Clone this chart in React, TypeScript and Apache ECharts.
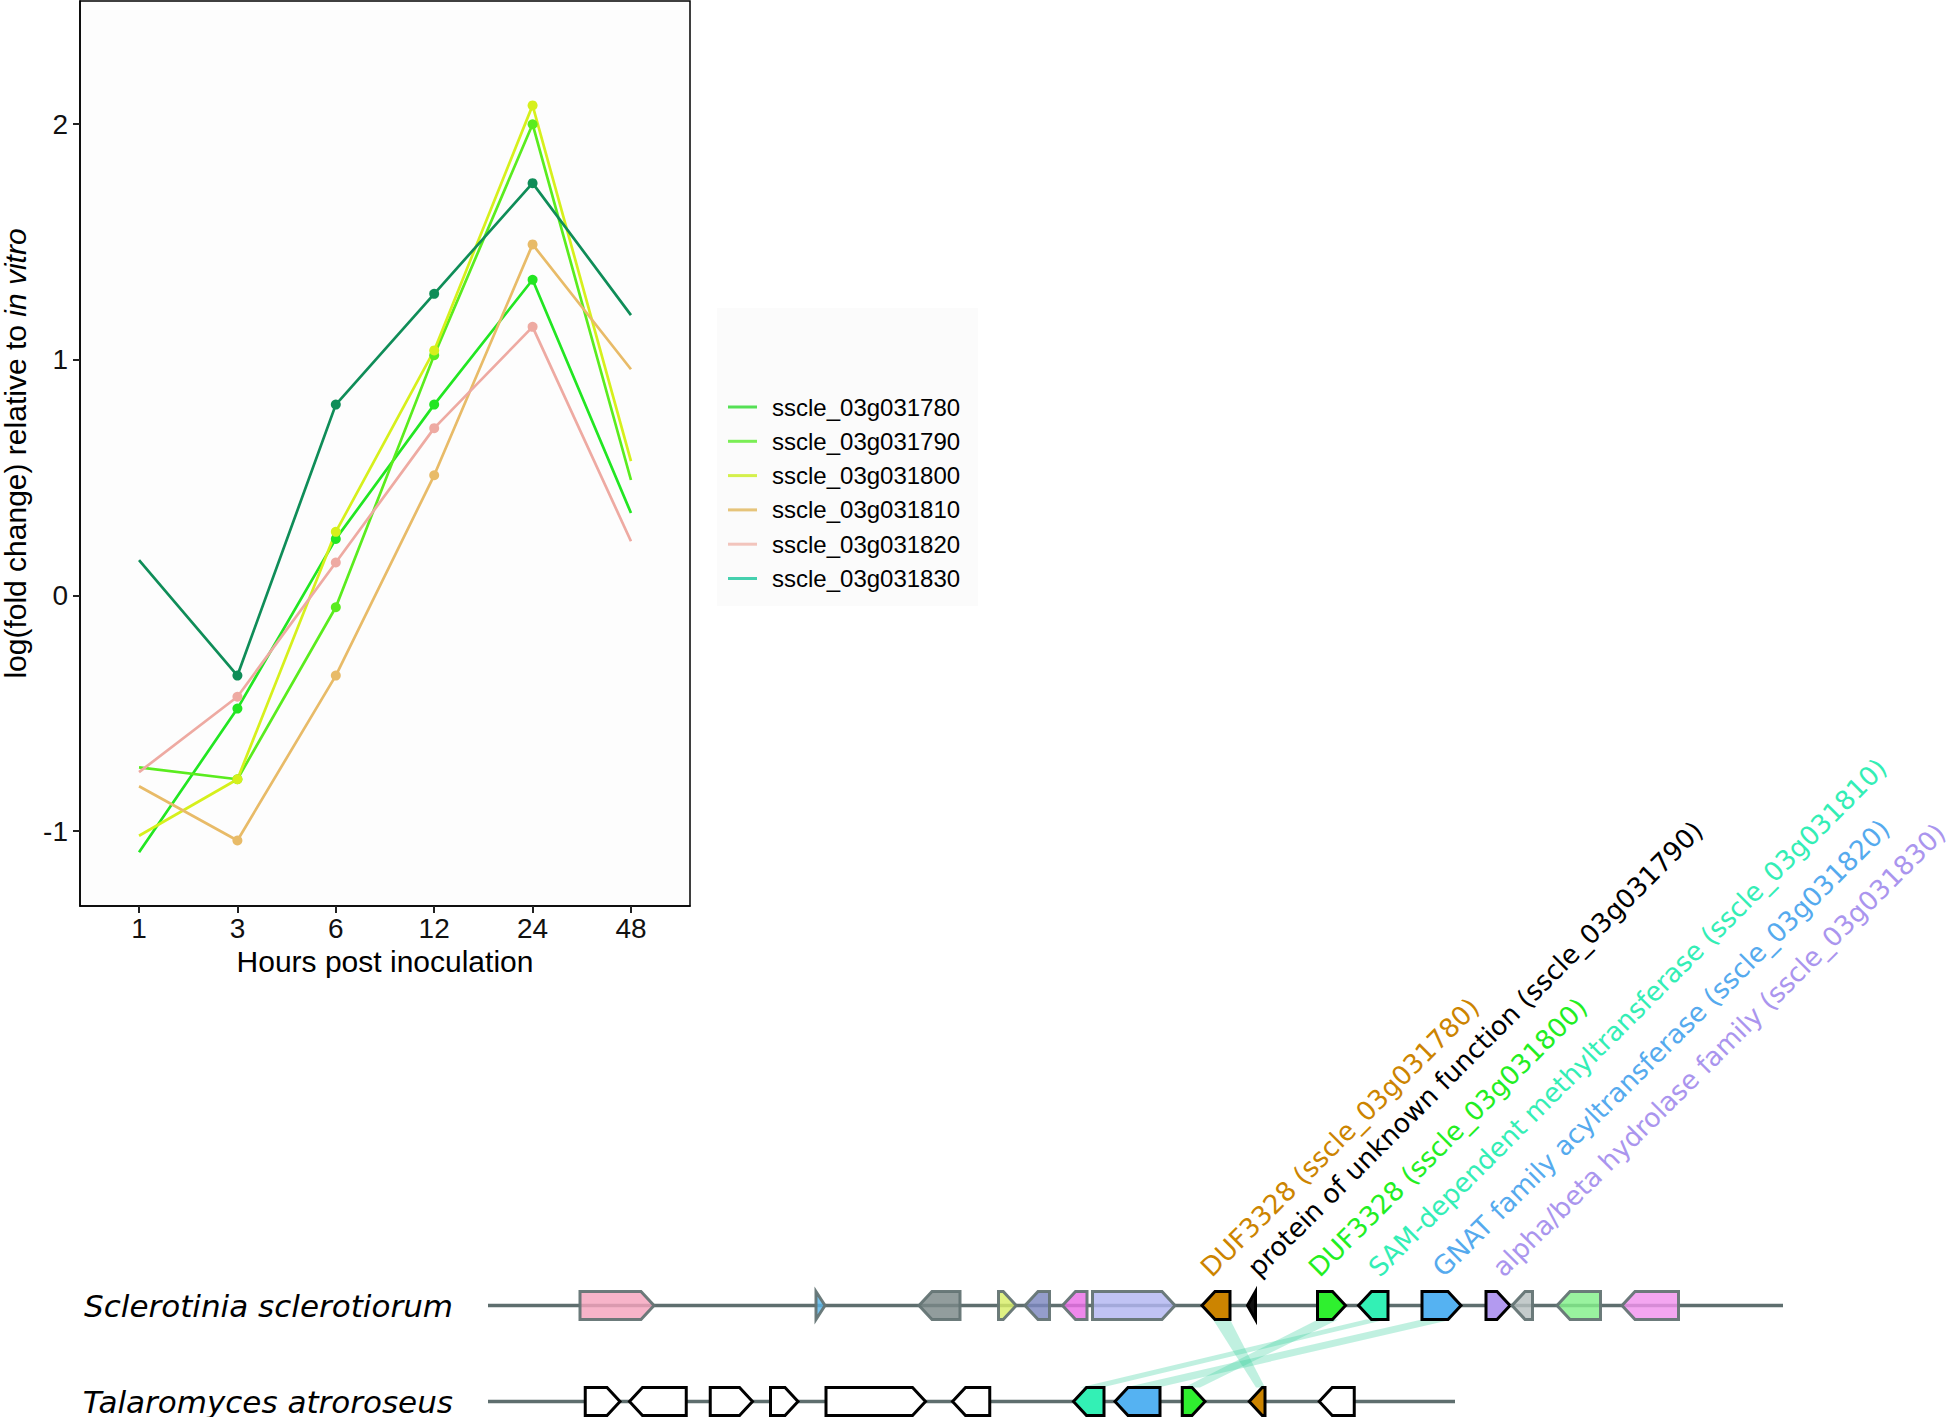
import React, { useEffect, useRef } from "react";
import * as echarts from "echarts";

// ---------- expression data (log fold change) ----------
const hours = ["1", "3", "6", "12", "24", "48"];
const markedHours = ["3", "6", "12", "24"];
const yTicks = [-1, 0, 1, 2];
const geneIds = [
  "sscle_03g031780",
  "sscle_03g031790",
  "sscle_03g031800",
  "sscle_03g031810",
  "sscle_03g031820",
  "sscle_03g031830",
];
const s780 = [-1.09, -0.48, 0.24, 0.81, 1.34, 0.35];
const s790 = [-0.73, -0.78, -0.05, 1.02, 2.0, 0.49];
const s800 = [-1.02, -0.78, 0.27, 1.04, 2.08, 0.57];
const s810 = [-0.81, -1.04, -0.34, 0.51, 1.49, 0.96];
const s820 = [-0.75, -0.43, 0.14, 0.71, 1.14, 0.23];
const s830 = [0.15, -0.34, 0.81, 1.28, 1.75, 1.19];
const seriesValues = [s780, s790, s800, s810, s820, s830];
const lineColors = ["#22e622", "#5aec1e", "#d6f01c", "#e8bb68", "#eeaaa2", "#0f8d58"];
const legendColors = ["#55e055", "#7aee55", "#d4f04c", "#e6c47a", "#f2c4bc", "#45d0ae"];

// ---------- gene cluster data (genomic coordinates, bp) ----------
const species = ["Talaromyces atroroseus", "Sclerotinia sclerotiorum"];
const trackLength = [38680, 51800];
// [start, end, strand]
const sclerotiniaGenes = [
  [3680, 6640, 1],
  [13120, 13480, 1],
  [17240, 18880, -1],
  [20420, 21130, 1],
  [21480, 22460, -1],
  [22980, 23960, -1],
  [24180, 27480, 1],
  [28560, 29680, -1],
  [30380, 30700, -1],
  [33180, 34300, 1],
  [34820, 36000, -1],
  [37360, 38920, 1],
  [39920, 40880, 1],
  [40960, 41780, -1],
  [42760, 44500, -1],
  [45360, 47620, -1],
];
const sclerotiniaFill = [
  "#f5a3bd", "#5ab4e8", "#7a8787", "#d8ee68", "#7c88bf", "#ea6ee6", "#b2b6f2",
  "#cc8400", "#111111", "#2ff02f", "#33f0b5", "#55b2f2", "#b39af0",
  "#b7c0c0", "#82f08a", "#f293ee",
];
const sclerotiniaInCluster = [0, 0, 0, 0, 0, 0, 0, 1, 1, 1, 1, 1, 1, 0, 0, 0];
const talaromycesGenes = [
  [3890, 5280, 1],
  [5660, 7930, -1],
  [8890, 10580, 1],
  [11300, 12400, 1],
  [13520, 17500, 1],
  [18580, 20070, -1],
  [23420, 24640, -1],
  [25080, 26880, -1],
  [27770, 28680, 1],
  [30450, 31080, -1],
  [33250, 34650, -1],
];
const talaromycesFill = [
  "#ffffff", "#ffffff", "#ffffff", "#ffffff", "#ffffff", "#ffffff",
  "#33f0b5", "#55b2f2", "#2ff02f", "#cc8400", "#ffffff",
];
// homology links: [topStart, topEnd, bottomStart, bottomEnd]
const homologyLinks = [
  [29000, 29680, 30720, 31080],
  [33200, 34000, 27840, 28480],
  [35120, 35920, 23680, 24560],
  [37360, 38560, 25480, 26800],
];
const clusterLabels = [
  "DUF3328 (sscle_03g031780)",
  "protein of unknown function (sscle_03g031790)",
  "DUF3328 (sscle_03g031800)",
  "SAM-dependent methyltransferase (sscle_03g031810)",
  "GNAT family acyltransferase (sscle_03g031820)",
  "alpha/beta hydrolase family (sscle_03g031830)",
];
const clusterLabelAt = [28680, 30560, 33000, 35400, 37960, 40360];
const clusterLabelColors = ["#cc8400", "#000000", "#22ee22", "#33eeb5", "#55aaee", "#aa95ee"];

const SANS = '"Liberation Sans", Arial, sans-serif';
const DEJAVU = '"DejaVu Sans", sans-serif';

function hexA(hex: string, a: number) {
  const n = parseInt(hex.slice(1), 16);
  return `rgba(${(n >> 16) & 255},${(n >> 8) & 255},${n & 255},${a})`;
}

function genePolygon(api: any, start: number, end: number, track: number, strand: number) {
  const a = api.coord([start, track]);
  const b = api.coord([end, track]);
  const x0 = a[0];
  const x1 = b[0];
  const yc = a[1];
  const h = 14;
  const head = Math.min(13, x1 - x0);
  if (strand > 0) {
    return [
      [x0, yc - h],
      [x1 - head, yc - h],
      [x1, yc],
      [x1 - head, yc + h],
      [x0, yc + h],
    ];
  }
  return [
    [x1, yc - h],
    [x0 + head, yc - h],
    [x0, yc],
    [x0 + head, yc + h],
    [x1, yc + h],
  ];
}

export default function App() {
  const ref = useRef<HTMLDivElement>(null);

  useEffect(() => {
    document.body.style.margin = "0";
    const chart = echarts.init(ref.current!, null, { renderer: "svg" });

    const lineSeries = geneIds.map((name, k) => ({
      name,
      type: "line",
      xAxisIndex: 0,
      yAxisIndex: 0,
      data: seriesValues[k].map((v, i) => ({
        value: [i, v],
        symbol: markedHours.includes(hours[i]) ? "circle" : "none",
      })),
      symbolSize: 10,
      showAllSymbol: true,
      lineStyle: { color: lineColors[k], width: 2.7 },
      itemStyle: { color: lineColors[k] },
      emphasis: { disabled: true },
      silent: true,
      z: 3,
    }));

    const trackSeries = trackLength.map((len, t) => ({
      name: "track" + t,
      type: "line",
      xAxisIndex: 1,
      yAxisIndex: 1,
      data: [
        [0, t],
        [len, t],
      ],
      symbol: "none",
      lineStyle: { color: "#5e6e6e", width: 3.5 },
      silent: true,
      z: 2,
    }));

    const linkSeries = {
      name: "links",
      type: "custom",
      xAxisIndex: 1,
      yAxisIndex: 1,
      clip: false,
      silent: true,
      z: 3,
      data: homologyLinks,
      renderItem: (params: any, api: any) => {
        const t0 = api.coord([api.value(0), 1]);
        const t1 = api.coord([api.value(1), 1]);
        const b1 = api.coord([api.value(3), 0]);
        const b0 = api.coord([api.value(2), 0]);
        return {
          type: "polygon",
          shape: {
            points: [
              [t0[0], t0[1] + 14],
              [t1[0], t1[1] + 14],
              [b1[0], b1[1] - 14],
              [b0[0], b0[1] - 14],
            ],
          },
          style: { fill: "rgba(60,208,160,0.32)" },
        };
      },
    };

    const sclerotiniaSeries = {
      name: "sclerotinia",
      type: "custom",
      xAxisIndex: 1,
      yAxisIndex: 1,
      clip: false,
      silent: true,
      z: 4,
      data: sclerotiniaGenes,
      renderItem: (params: any, api: any) => {
        const i = params.dataIndex;
        const inCl = sclerotiniaInCluster[i] === 1;
        return {
          type: "polygon",
          shape: { points: genePolygon(api, api.value(0), api.value(1), 1, api.value(2)) },
          style: {
            fill: inCl ? sclerotiniaFill[i] : hexA(sclerotiniaFill[i], 0.82),
            stroke: inCl ? "#000000" : "rgba(100,116,116,0.95)",
            lineWidth: 3,
            lineJoin: "miter",
          },
        };
      },
    };

    const talaromycesSeries = {
      name: "talaromyces",
      type: "custom",
      xAxisIndex: 1,
      yAxisIndex: 1,
      clip: false,
      silent: true,
      z: 4,
      data: talaromycesGenes,
      renderItem: (params: any, api: any) => {
        const i = params.dataIndex;
        return {
          type: "polygon",
          shape: { points: genePolygon(api, api.value(0), api.value(1), 0, api.value(2)) },
          style: {
            fill: talaromycesFill[i],
            stroke: "#000000",
            lineWidth: 3,
            lineJoin: "miter",
          },
        };
      },
    };

    const labelSeries = {
      name: "labels",
      type: "custom",
      xAxisIndex: 1,
      yAxisIndex: 1,
      clip: false,
      silent: true,
      z: 5,
      data: clusterLabelAt.map((x) => [x, 1]),
      renderItem: (params: any, api: any) => {
        const i = params.dataIndex;
        const p = api.coord([api.value(0), api.value(1)]);
        const baseY = p[1] - 14 - 15.5;
        return {
          type: "text",
          x: p[0] + 0.5,
          y: baseY - 4,
          rotation: Math.PI / 4,
          style: {
            text: clusterLabels[i],
            fill: clusterLabelColors[i],
            fontSize: 26.4,
            fontFamily: DEJAVU,
            align: "left",
            verticalAlign: "middle",
          },
        };
      },
    };

    const option: any = {
      animation: false,
      backgroundColor: "#ffffff",
      graphic: [
        {
          type: "rect",
          shape: { x: 717, y: 308, width: 261, height: 298 },
          style: { fill: "#fbfbfb" },
          z: 0,
          silent: true,
        },
      ],
      legend: {
        orient: "vertical",
        left: 723,
        top: 390,
        itemWidth: 29,
        itemHeight: 3,
        itemGap: 10.3,
        icon: "rect",
        selectedMode: false,
        textStyle: {
          fontSize: 24,
          fontFamily: SANS,
          color: "#000",
          lineHeight: 24,
          padding: [0, 0, 0, 10],
        },
        data: geneIds.map((n, i) => ({ name: n, itemStyle: { color: legendColors[i] } })),
      },
      grid: [
        {
          left: 80,
          top: 1,
          width: 610,
          height: 905,
          show: true,
          borderColor: "#000",
          borderWidth: 1.5,
          backgroundColor: "#fdfdfd",
          containLabel: false,
          outerBoundsMode: "none",
        },
        {
          left: 488,
          top: 1291.1,
          width: 1295,
          height: 124.8,
          containLabel: false,
          outerBoundsMode: "none",
        },
      ],
      xAxis: [
        {
          gridIndex: 0,
          type: "value",
          min: -0.6,
          max: 5.6,
          splitLine: { show: false },
          axisLine: { show: true, onZero: false, lineStyle: { color: "#000", width: 1.5 } },
          axisTick: {
            show: true,
            inside: false,
            length: 7,
            customValues: hours.map((_, i) => i),
            lineStyle: { color: "#222", width: 2 },
          },
          axisLabel: {
            customValues: hours.map((_, i) => i),
            formatter: (v: number) => hours[Math.round(v)] ?? "",
            fontSize: 28,
            fontFamily: SANS,
            color: "#111",
            margin: 8,
          },
          name: "Hours post inoculation",
          nameLocation: "middle",
          nameGap: 40,
          nameTextStyle: { fontSize: 30, fontFamily: SANS, color: "#000" },
        },
        { gridIndex: 1, type: "value", min: 0, max: 51800, show: false },
      ],
      yAxis: [
        {
          gridIndex: 0,
          type: "value",
          min: -1.318,
          max: 2.523,
          splitLine: { show: false },
          axisLine: { show: true, onZero: false, lineStyle: { color: "#000", width: 1.5 } },
          axisTick: {
            show: true,
            inside: false,
            length: 7,
            customValues: yTicks,
            lineStyle: { color: "#222", width: 2 },
          },
          axisLabel: {
            customValues: yTicks,
            formatter: (v: number) => String(v),
            fontSize: 28,
            fontFamily: SANS,
            color: "#111",
            margin: 12,
          },
          name: "{n|log(fold change) relative to }{i|in vitro}",
          nameLocation: "middle",
          nameGap: 50,
          nameTextStyle: {
            fontSize: 30,
            fontFamily: SANS,
            color: "#000",
            rich: {
              n: { fontSize: 30, fontFamily: SANS, color: "#000" },
              i: { fontSize: 30, fontFamily: SANS, color: "#000", fontStyle: "italic" },
            },
          },
        },
        {
          gridIndex: 1,
          type: "value",
          min: -0.15,
          max: 1.15,
          splitLine: { show: false },
          axisLine: { show: false, onZero: false },
          axisTick: { show: false },
          axisLabel: {
            customValues: [0, 1],
            formatter: (v: number) => species[Math.round(v)] ?? "",
            fontSize: 31,
            lineHeight: 28,
            fontStyle: "italic",
            fontFamily: DEJAVU,
            color: "#000",
            margin: 35,
          },
        },
      ],
      series: [
        ...lineSeries,
        ...trackSeries,
        linkSeries,
        sclerotiniaSeries,
        talaromycesSeries,
        labelSeries,
      ],
    };

    chart.setOption(option);
    return () => chart.dispose();
  }, []);

  return (
    <div
      ref={ref}
      style={{ position: "absolute", left: 0, top: 0, width: 1946, height: 1417, background: "#fff" }}
    />
  );
}
